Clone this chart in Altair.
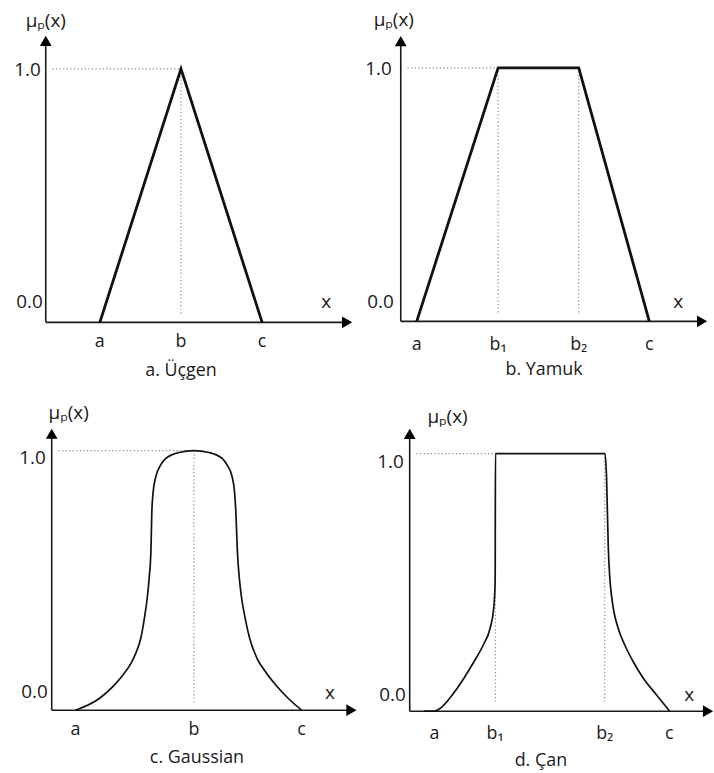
import altair as alt
import pandas as pd

# ---------------------------------------------------------------------------
# Membership functions (x in axis units, mu = membership degree)
# ---------------------------------------------------------------------------
tri_x = [2.0, 5.0, 8.0]
tri_mu = [0.0, 1.0, 0.0]

trap_x = [0.59, 3.6, 6.58, 9.19]
trap_mu = [0.0, 1.0, 1.0, 0.0]

gauss_x = [0.88, 1.76, 2.25, 2.62, 2.93, 3.11, 3.30, 3.42, 3.54, 3.60, 3.67,
           3.70, 3.75, 3.85, 4.03, 4.22, 4.71, 5.26, 5.81, 6.30, 6.48, 6.67,
           6.76, 6.81, 6.86, 6.94, 7.01, 7.16, 7.31, 7.59, 7.89, 8.26, 8.75, 9.24]
gauss_mu = [0.0, 0.045, 0.09, 0.134, 0.18, 0.22, 0.28, 0.35, 0.44, 0.505, 0.62,
            0.76, 0.84, 0.90, 0.945, 0.97, 0.993, 1.0, 0.993, 0.97, 0.945, 0.90,
            0.84, 0.76, 0.62, 0.505, 0.44, 0.35, 0.28, 0.20, 0.15, 0.10, 0.045, 0.0]

bell_x = [0.54, 0.91, 1.15, 1.58, 2.01, 2.38, 2.72, 2.97, 3.09, 3.14, 3.16, 3.17,
          7.22, 7.28, 7.34, 7.40, 7.46, 7.55, 7.71, 7.95, 8.26, 8.63, 9.12, 9.61]
bell_mu = [0.0, 0.0, 0.013, 0.064, 0.129, 0.193, 0.257, 0.321, 0.386, 0.45, 0.514, 1.0,
           1.0, 0.90, 0.64, 0.514, 0.45, 0.386, 0.321, 0.257, 0.193, 0.129, 0.064, 0.0]

# x-axis parameter names and where they sit
tri_ticks, tri_tick_x = ["a", "b", "c"], [2.0, 5.0, 8.0]
trap_ticks, trap_tick_x = ["a", "b\u2081", "b\u2082", "c"], [0.59, 3.6, 6.58, 9.19]
gauss_ticks, gauss_tick_x = ["a", "b", "c"], [0.88, 5.26, 9.24]
bell_ticks, bell_tick_x = ["a", "b\u2081", "b\u2082", "c"], [0.92, 3.16, 7.21, 9.6]

# vertical dotted guides at the points of full membership
tri_peaks = [5.0]
trap_peaks = [3.6, 6.58]
gauss_peaks = [5.26]
bell_peaks = [3.17, 7.21]

titles = ["a. \u00dc\u00e7gen", "b. Yamuk", "c. Gaussian", "d. \u00c7an"]
y_labels = ["1.0", "0.0"]
y_name = "\u03bc\u209a(x)"
x_name = "x"

# ---------------------------------------------------------------------------
# Layout of each panel (pixels) and drawing styles
# ---------------------------------------------------------------------------
UX = 27.2          # pixels per x unit
FONT = "Open Sans"
FS = 18            # letters on the x axis, titles
FS_NUM = 19        # 1.0 / 0.0 and the axis names
INK = "#111111"
TXT = "#1a1a1a"

layouts = {
    "a": dict(W=360, H=385, ox=46, oy=322, uy=255, xend=11.14, yend=1.11,
              tick_dy=25, title_x=5.0, title_dy=54, one_dx=-5, one_dy=1,
              zero_dx=-3, zero_dy=-14, name_dx=0, name_dy=-14, xlab=10.37, xlab_dy=-20),
    "b": dict(W=354, H=385, ox=43, oy=321, uy=255, xend=11.14, yend=1.105,
              tick_dy=29, title_x=5.3, title_dy=54, one_dx=-9, one_dy=1,
              zero_dx=-7, zero_dy=-13, name_dx=-7, name_dy=-15, xlab=10.26, xlab_dy=-19),
    "c": dict(W=360, H=388, ox=52, oy=327, uy=261, xend=11.08, yend=1.065,
              tick_dy=25, title_x=5.37, title_dy=53, one_dx=-6, one_dy=7,
              zero_dx=-4, zero_dy=-12, name_dx=17, name_dy=-15, xlab=10.29, xlab_dy=-17),
    "d": dict(W=354, H=388, ox=52, oy=328, uy=259, xend=11.03, yend=1.077,
              tick_dy=28, title_x=4.85, title_dy=55, one_dx=-6, one_dy=8,
              zero_dx=-4, zero_dy=-10, name_dx=38, name_dy=-11, xlab=10.33, xlab_dy=-16),
}


def panel(key, cx, cmu, ticks, tick_x, peaks, title, width, interp):
    L = layouts[key]
    xs = alt.Scale(domain=[-L["ox"] / UX, (L["W"] - L["ox"]) / UX], nice=False, zero=False)
    ys = alt.Scale(domain=[-(L["H"] - L["oy"]) / L["uy"], L["oy"] / L["uy"]],
                   nice=False, zero=False)
    X = alt.X("x:Q", scale=xs, axis=None)
    Y = alt.Y("mu:Q", scale=ys, axis=None)

    # axis lines
    axes_df = pd.DataFrame({"x": [0.0, 0.0], "mu": [0.0, 0.0],
                            "x2": [0.0, L["xend"]], "mu2": [L["yend"], 0.0]})
    axes = alt.Chart(axes_df).mark_rule(color="#1a1a1a", strokeWidth=1.6).encode(
        x=X, y=Y, x2="x2:Q", y2="mu2:Q")

    # arrow heads
    arrow_df = pd.DataFrame({"x": [0.0, L["xend"]], "mu": [L["yend"], 0.0],
                             "shape": ["triangle-up", "triangle-right"]})
    arrows = alt.Chart(arrow_df).mark_point(filled=True, opacity=1, color="#000000",
                                            size=140, strokeWidth=0).encode(
        x=X, y=Y, shape=alt.Shape("shape:N", scale=None))

    # dotted guides: level 1.0 and the plateau / peak positions
    guide_df = pd.DataFrame({
        "x": [0.25] + peaks,
        "mu": [1.0] + [1.0] * len(peaks),
        "x2": [peaks[0]] + peaks,
        "mu2": [1.0] + [0.03] * len(peaks),
    })
    guides = alt.Chart(guide_df).mark_rule(color="#8a8a8a", strokeWidth=1.2,
                                           strokeDash=[1.2, 2.4]).encode(
        x=X, y=Y, x2="x2:Q", y2="mu2:Q")

    # membership curve
    curve_df = pd.DataFrame({"x": cx, "mu": cmu, "i": list(range(len(cx)))})
    curve = alt.Chart(curve_df).mark_line(color=INK, strokeWidth=width,
                                          interpolate=interp, strokeJoin="miter").encode(
        x=X, y=Y, order="i:Q")

    txt = dict(font=FONT, fontSize=FS, color=TXT)
    num = dict(font=FONT, fontSize=FS_NUM, color=TXT)

    tick_df = pd.DataFrame({"x": tick_x, "mu": [0.0] * len(tick_x), "t": ticks})
    tick_text = alt.Chart(tick_df).mark_text(align="center", baseline="alphabetic",
                                             dy=L["tick_dy"], **txt).encode(
        x=X, y=Y, text="t:N")

    one_df = pd.DataFrame({"x": [0.0], "mu": [1.0], "t": [y_labels[0]]})
    one_text = alt.Chart(one_df).mark_text(align="right", baseline="middle",
                                           dx=L["one_dx"], dy=L["one_dy"], **num).encode(
        x=X, y=Y, text="t:N")

    zero_df = pd.DataFrame({"x": [0.0], "mu": [0.0], "t": [y_labels[1]]})
    zero_text = alt.Chart(zero_df).mark_text(align="right", baseline="alphabetic",
                                             dx=L["zero_dx"], dy=L["zero_dy"], **num).encode(
        x=X, y=Y, text="t:N")

    name_df = pd.DataFrame({"x": [0.0], "mu": [L["yend"]], "t": [y_name]})
    name_text = alt.Chart(name_df).mark_text(align="center", baseline="alphabetic",
                                             dx=L["name_dx"], dy=L["name_dy"], **num).encode(
        x=X, y=Y, text="t:N")

    xlab_df = pd.DataFrame({"x": [L["xlab"]], "mu": [0.0], "t": [x_name]})
    xlab_text = alt.Chart(xlab_df).mark_text(align="center", baseline="middle",
                                             dy=L["xlab_dy"], **num).encode(
        x=X, y=Y, text="t:N")

    title_df = pd.DataFrame({"x": [L["title_x"]], "mu": [0.0], "t": [title]})
    title_text = alt.Chart(title_df).mark_text(align="center", baseline="alphabetic",
                                               dy=L["title_dy"], **txt).encode(
        x=X, y=Y, text="t:N")

    return alt.layer(guides, axes, arrows, curve, tick_text, one_text, zero_text,
                     name_text, xlab_text, title_text).properties(
        width=L["W"], height=L["H"])


pa = panel("a", tri_x, tri_mu, tri_ticks, tri_tick_x, tri_peaks, titles[0], 2.8, "linear")
pb = panel("b", trap_x, trap_mu, trap_ticks, trap_tick_x, trap_peaks, titles[1], 2.8, "linear")
pc = panel("c", gauss_x, gauss_mu, gauss_ticks, gauss_tick_x, gauss_peaks, titles[2], 1.7, "monotone")
pd_ = panel("d", bell_x, bell_mu, bell_ticks, bell_tick_x, bell_peaks, titles[3], 1.7, "monotone")

chart = alt.concat(pa, pb, pc, pd_, columns=2, spacing=0, bounds="flush").properties(
    padding=0, background="white"
).configure_view(stroke=None)

chart.save("out.html", embed_options={"renderer": "svg", "actions": False})
